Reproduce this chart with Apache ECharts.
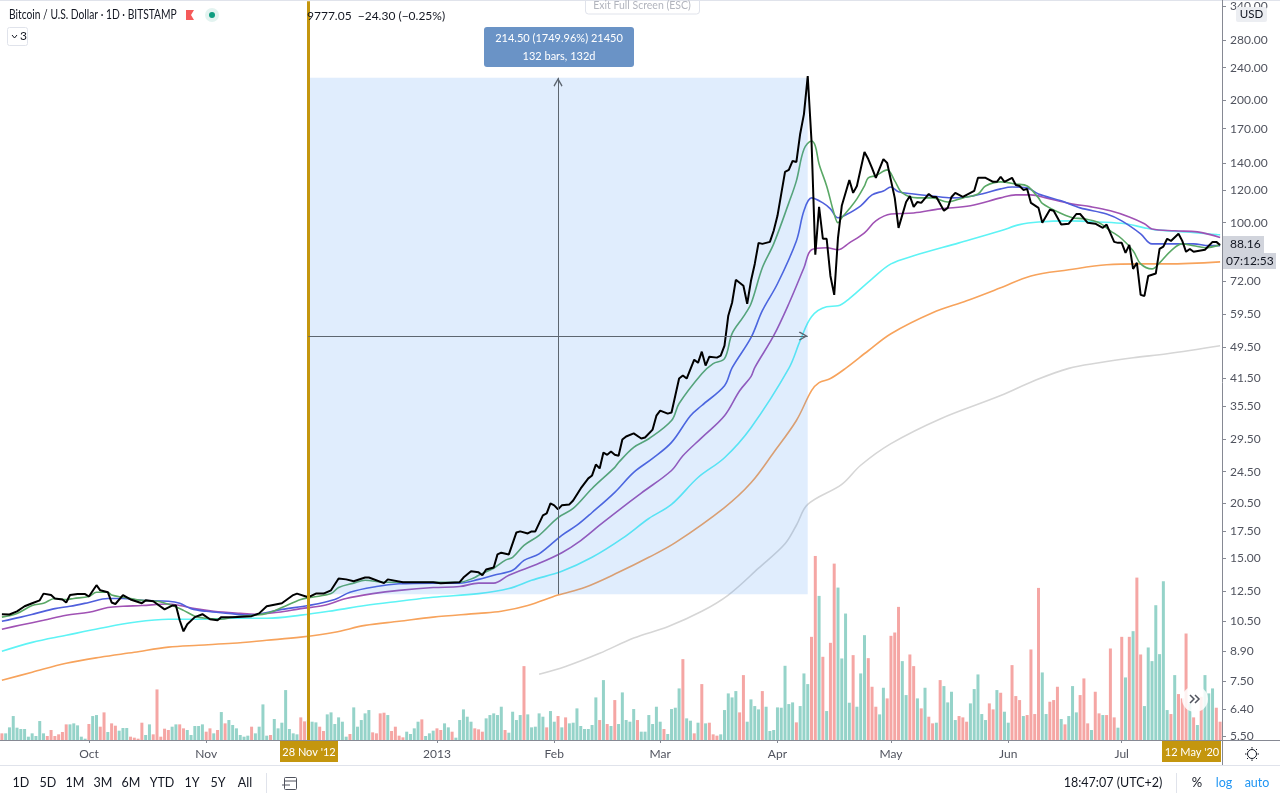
<!DOCTYPE html>
<html>
<head>
<meta charset="utf-8">
<title>BTCUSD</title>
<style>html,body{margin:0;padding:0;background:#fff}#chart{width:1280px;height:800px}</style>
<script src="https://cdn.jsdelivr.net/npm/echarts@6/dist/echarts.min.js"></script>
</head>
<body>
<div id="chart"></div>
<script>
// daily bars start 8 Sep 2012, points below are [bar index, price]
const startDate = new Date(Date.UTC(2012, 8, 8));
const barCount = 323;
const monthBars = [23, 54, 115, 146, 174, 205, 235, 266, 296];
const monthLabels = ["Oct", "Nov", "2013", "Feb", "Mar", "Apr", "May", "Jun", "Jul"];
const priceTicks = [340, 280, 240, 200, 170, 140, 120, 100, 72, 59.5, 49.5, 41.5, 35.5, 29.5, 24.5, 20.5, 17.5, 15, 12.5, 10.5, 8.9, 7.5, 6.4, 5.5];

const close = [[0,10.95],[2,10.93],[4,11.13],[6,11.45],[8,11.65],[10,11.84],[11,12.3],[13,12.2],[14,11.97],[16,11.9],[17,11.7],[18,12.2],[20,12.27],[22,12.27],[23,12.1],[25,12.9],[26,12.53],[28,12.4],[29,11.7],[30,11.6],[32,12.2],[34,11.9],[37,11.65],[38,11.84],[40,11.78],[43,11.25],[45,11.5],[46,11.5],[47,10.58],[48,9.94],[49,10.35],[51,10.77],[53,10.95],[55,10.64],[57,10.58],[58,10.77],[61,10.77],[66,10.83],[68,11],[70,11.45],[71,11.5],[74,11.65],[77,12.2],[78,12.3],[81,12.05],[83,12.3],[85,12.3],[87,12.53],[89,13.4],[91,13.33],[93,13.19],[96,13.47],[97,13.47],[101,13.05],[102,13.33],[106,13.12],[114,13.12],[116,13.05],[121,13.12],[122,13.47],[124,13.95],[126,13.87],[127,13.65],[128,14.1],[130,14.26],[131,15.35],[132,15.5],[134,15.35],[136,17.38],[137,17.48],[139,17.28],[140,17.48],[141,17.48],[143,19.13],[144,19.35],[145,20.47],[146,20.25],[147,19.8],[148,20.25],[150,20.36],[151,20.82],[153,22.28],[155,23.58],[156,23.98],[157,25.5],[158,24.95],[159,27.28],[160,26.95],[161,27.44],[162,26.95],[163,26.8],[164,29.37],[165,29.87],[167,30.4],[169,29.54],[170,29.7],[172,31.07],[173,33.6],[174,34.59],[176,34],[177,34.2],[178,37.65],[179,41.45],[180,42.15],[181,41.45],[183,46.1],[184,45.3],[185,48.25],[186,44.6],[187,46.9],[189,46.65],[190,47.2],[191,49.9],[192,59.1],[193,63.6],[194,72.4],[196,70],[197,63.25],[198,72],[199,79.2],[200,89.2],[201,88.7],[203,89.7],[204,95.5],[205,103.9],[206,117.6],[207,133.2],[208,134.7],[209,141.7],[210,140.9],[211,165],[212,184.6],[213,228.8],[214,158.6],[215,83.4],[216,109.3],[217,91.3],[218,91.3],[219,74],[220,66.5],[221,91.8],[222,110],[224,127.3],[225,118.3],[226,123],[228,149],[229,143.2],[230,136.1],[231,128.8],[233,143.2],[234,140.1],[236,115],[237,97.1],[239,112.4],[240,116.2],[241,109.3],[242,112.4],[243,111.8],[245,117.6],[246,115.6],[247,115.6],[249,106.9],[250,108.7],[251,115.6],[252,118.3],[254,115.6],[255,117],[257,119.6],[258,128.8],[260,128.8],[262,125.9],[263,125.9],[264,129.6],[265,125.9],[267,128.8],[268,123.7],[269,123],[270,120.3],[271,121],[272,111.8],[274,108.7],[275,99.9],[277,107.5],[278,106.9],[280,98.9],[282,99.4],[284,105],[285,105],[287,99.9],[289,99.4],[291,97.1],[292,98.9],[294,89.7],[295,89.2],[296,89.2],[297,84.3],[298,88.2],[299,77],[300,79.7],[301,66.5],[302,66.1],[303,74],[305,75],[306,86.2],[307,87.3],[308,91.3],[309,90.2],[311,93.9],[312,90.2],[313,84.8],[314,86.2],[315,84.8],[318,85.8],[320,89.7],[321,89.7],[322,88.16]];

const maGreen = [[0,10.77],[4,11],[8,11.5],[11,11.65],[14,11.97],[17,11.9],[19,11.97],[23,12.1],[25,12.4],[28,12.4],[29,12.2],[32,12.05],[37,11.84],[41,11.78],[45,11.5],[48,11.19],[51,10.83],[54,10.7],[58,10.64],[61,10.77],[67,10.89],[70,11],[74,11.37],[79,11.9],[82,12.05],[87,12.3],[89,12.73],[93,13.05],[96,13.26],[101,13.12],[105,13.12],[114,13.12],[121,13.12],[125,13.47],[126,13.65],[130,14.2],[133,14.84],[135,15.1],[138,16.15],[142,17.1],[147,18.9],[151,19.9],[156,22.28],[162,25.1],[163,25.8],[167,28.1],[171,29.5],[177,32.7],[179,36],[185,42.6],[188,45.1],[191,46.4],[193,53.4],[196,58.8],[198,63.25],[201,77.5],[204,88.7],[208,111.8],[210,126.6],[212,151.3],[214,158.6],[215,154.2],[216,139.3],[218,123],[220,105],[221,99.9],[222,102.8],[224,108.1],[226,114.4],[228,123],[229,128.8],[231,130.4],[234,134.7],[236,126.6],[238,118.3],[242,115],[246,115],[250,112.4],[254,115],[258,117.6],[260,123],[264,125.9],[268,124.4],[271,123],[274,115],[275,111.5],[279,106.3],[283,102.8],[286,102.2],[290,99.9],[293,95.5],[296,91.3],[299,85.3],[301,79.2],[304,77],[306,79.7],[309,85.3],[312,88.7],[315,87.8],[318,86.8],[322,88.2]];

const maBlue = [[0,10.52],[5,10.77],[9,11],[14,11.3],[18,11.45],[23,11.7],[28,11.97],[32,11.97],[37,11.84],[44,11.78],[47,11.65],[50,11.3],[54,11.13],[60,11],[65,10.89],[69,11],[74,11.25],[81,11.5],[88,11.9],[92,12.4],[99,12.8],[105,13],[114,13.05],[121,13.05],[126,13.33],[130,13.65],[135,14.03],[138,14.84],[142,15.4],[148,17.1],[152,18.1],[156,19.45],[162,21.8],[167,24.4],[172,26.4],[177,28.9],[182,33.6],[185,35.6],[191,39.8],[193,44],[198,52.2],[201,60.8],[205,70.8],[210,90.2],[212,106.9],[214,115],[217,111.8],[219,108.1],[221,102.8],[223,104.4],[227,110],[230,117],[233,119.6],[235,122.3],[237,119],[241,117.6],[246,116.2],[251,115],[255,115.6],[259,117.6],[264,121],[267,122.3],[271,121.7],[274,117.6],[280,113.1],[285,108.7],[292,105],[296,101],[301,93.9],[304,88.7],[310,88.7],[315,88.7],[319,87.8],[322,87.8]];

const maPurple = [[0,10.06],[5,10.3],[11,10.58],[17,10.89],[23,11.07],[28,11.37],[32,11.45],[37,11.5],[44,11.6],[47,11.5],[51,11.3],[56,11.13],[63,11],[67,10.95],[73,11.07],[79,11.3],[85,11.5],[91,11.97],[98,12.3],[105,12.53],[114,12.73],[121,12.8],[126,13.05],[130,13.05],[134,13.65],[142,14.6],[148,15.5],[153,16.6],[158,18.1],[163,19.68],[169,21.7],[177,24.66],[180,26.8],[185,29.7],[191,33.6],[195,38.7],[198,41.9],[199,44.1],[204,52.8],[208,63.25],[212,77.5],[214,85.8],[218,86.8],[221,85.8],[224,89.2],[228,94.4],[231,101],[235,105],[241,105.6],[248,108.1],[256,110],[264,115],[268,117],[272,117],[276,115],[282,111.5],[288,109.3],[293,106.9],[298,103.3],[302,99.4],[304,96.5],[310,95.5],[316,94.9],[322,92]];

const maCyan = [[0,8.88],[8,9.34],[17,9.72],[26,10.11],[35,10.46],[44,10.64],[52,10.64],[61,10.7],[70,10.7],[79,10.89],[88,11.19],[96,11.5],[105,11.78],[114,12.05],[126,12.3],[134,12.66],[140,13.26],[148,13.95],[156,15.1],[164,16.8],[171,18.8],[177,20.36],[184,23.7],[191,26.5],[198,31.4],[208,43.9],[211,51.34],[214,58.8],[218,62.2],[221,62.5],[224,65.1],[230,72.8],[235,79.2],[241,82.9],[253,89.2],[264,95.5],[269,98.9],[274,100.4],[282,101],[290,100.4],[297,99.4],[302,97.1],[305,96],[313,94.9],[322,93.3]];

const maOrange = [[0,7.54],[8,7.89],[17,8.3],[26,8.59],[35,8.83],[44,9.09],[52,9.19],[61,9.29],[70,9.45],[79,9.62],[88,9.89],[96,10.28],[105,10.52],[114,10.77],[126,11],[132,11.13],[139,11.5],[147,12.2],[154,12.73],[163,13.87],[171,15.1],[178,16.4],[191,20],[198,23],[204,27.3],[210,32.7],[214,38.7],[216,40.5],[219,41.45],[223,43.9],[229,48.5],[235,53.4],[246,60.1],[255,64.3],[264,69.2],[272,74],[282,76.6],[292,78.8],[301,79.2],[308,79.2],[322,80.1]];

const maGray = [[142,7.8],[149,8.15],[158,8.78],[167,9.57],[176,10.2],[185,11.13],[192,12.2],[200,14.2],[207,16.3],[210,18.1],[213,20.36],[222,22.8],[227,25.4],[235,28.7],[248,33],[264,37.65],[273,41],[282,43.9],[290,45.3],[299,46.6],[308,47.7],[322,49.9]];

const volume = [
  20,20,38,72,37,33,33,10,20,12,57,20,12,30,12,17,24,47,47,50,44,10,4,48,72,75,40,83,24,50,43,28,36,36,10,7,4,52,15,47,
  17,152,10,34,30,40,47,47,35,30,15,42,42,47,25,35,20,30,84,50,60,45,35,15,10,13,40,20,40,107,13,15,63,35,52,150,33,20,17,68,
  56,60,55,53,40,27,77,83,48,68,55,10,18,98,40,60,80,90,23,20,80,82,75,27,40,13,8,25,18,35,55,62,12,20,28,35,30,50,38,25,
  7,60,92,70,55,35,32,25,65,75,80,75,100,30,22,85,60,75,222,77,38,40,80,70,38,87,55,72,38,68,50,52,95,42,33,33,45,128,60,180,
  48,42,120,48,143,60,55,93,60,25,25,75,48,100,55,33,18,93,97,155,243,65,58,20,52,168,50,52,17,13,17,90,140,128,147,83,195,55,122,102,
  92,147,100,27,30,98,97,223,108,113,53,102,200,168,310,553,433,250,87,292,530,458,245,380,112,255,100,200,315,246,160,100,77,157,125,313,323,400,237,135,
  257,222,125,95,157,70,50,52,180,162,113,145,60,72,68,55,110,153,197,78,60,110,92,150,142,85,52,225,132,120,72,75,272,78,457,203,78,115,120,160,
  63,47,72,162,83,135,185,50,30,145,80,75,75,275,68,37,310,188,310,327,488,257,102,278,237,405,258,477,90,78,195,138,125,320,110,68,45,130,195,140,
  155,97,55
];
// 1 = close above open
const volumeUp = [
  0,1,1,1,1,1,1,1,1,1,1,1,0,0,0,0,0,0,1,1,1,1,1,0,1,1,0,0,1,0,0,1,1,1,0,0,0,0,1,1,
  0,0,0,0,0,1,1,0,0,1,1,1,1,1,0,0,1,0,1,0,1,1,1,1,1,1,0,1,1,1,1,0,1,1,1,1,1,1,1,0,
  0,1,1,1,0,0,1,1,1,1,1,1,0,1,1,1,1,1,0,0,0,0,1,0,0,0,0,1,1,1,1,0,1,1,1,0,0,1,1,0,
  1,1,1,1,1,0,0,0,1,1,1,1,1,0,1,1,1,1,0,1,1,1,1,1,0,1,1,0,1,0,1,1,1,1,1,1,1,1,0,1,
  0,1,0,1,1,1,1,1,0,1,1,1,1,1,1,0,1,1,1,1,0,1,1,0,1,0,1,0,0,0,1,1,1,1,1,0,0,1,1,1,
  1,0,1,1,1,1,1,1,1,1,0,1,1,1,0,0,1,0,1,0,0,1,1,1,1,0,1,1,1,0,0,0,1,1,0,0,0,0,1,1,
  0,0,1,0,1,0,0,1,0,1,1,1,1,0,0,0,1,1,1,1,1,0,0,1,0,1,1,0,0,0,1,0,0,0,0,1,1,0,0,0,
  1,0,1,1,1,0,0,0,1,0,0,1,0,0,0,1,0,1,0,1,0,0,1,1,1,1,1,1,1,0,1,0,0,0,1,0,1,0,1,1,
  1,0,0
];

// measure tool: 28 Nov to 9 Apr
const measureFromBar = 81, measureToBar = 213, measureMidBar = 147;
const measureLow = 12.26, measureHigh = 226.76, measureMid = 52.7;

const fontName = "Lato, 'Noto Sans', sans-serif";
const gold = "#c4960e";
// open arrow head, the empty first point keeps the tip on the line's end
const chevron = "path://M0,-8 L0,-8 Z M0,0 L5,7 L4,8 L0,2.4 L-4,8 L-5,7 Z";

const categories = [];
for (let i = 0; i < barCount; i++) {
  categories.push(new Date(startDate.getTime() + i * 86400000).toISOString().slice(0, 10));
}

function maSeries(name, data, color) {
  return {
    name: name, type: "line", data: data, yAxisIndex: 0, z: 2,
    showSymbol: false, symbol: "none", smooth: 0.35,
    lineStyle: { color: color, width: 1.6 }, silent: true,
  };
}

function label(x, y, text, color, size, align, weight) {
  return {
    type: "text", x: x, y: y, z: 100, silent: true,
    style: {
      text: text, fill: color, fontSize: size, fontFamily: fontName,
      align: align || "left", verticalAlign: "middle", fontWeight: weight || "normal",
    },
  };
}
function box(x, y, w, h, fill, stroke, r) {
  return {
    type: "rect", z: 99, silent: true,
    shape: { x: x, y: y, width: w, height: h, r: r || 0 },
    style: { fill: fill, stroke: stroke || null, lineWidth: 1 },
  };
}
function stroke(points, color, width) {
  return {
    type: "polyline", z: 100, silent: true,
    shape: { points: points },
    style: { stroke: color, lineWidth: width || 1, fill: null },
  };
}

const ranges = [["1D", 21], ["5D", 48], ["1M", 75], ["3M", 103], ["6M", 131], ["YTD", 162], ["1Y", 192], ["5Y", 218], ["All", 245]];

const title = label(9, 15, "Bitcoin / U.S. Dollar · 1D · BITSTAMP", "#131722", 13);
title.scaleX = 0.79;

const chrome = [
  stroke([[0, 0.5], [1280, 0.5]], "#e0e3eb"),
  // header
  title,
  { type: "polygon", z: 100, silent: true, shape: { points: [[186, 10], [194, 10], [191, 15], [194, 20], [186, 20]] }, style: { fill: "#f55a5a" } },
  { type: "circle", z: 99, silent: true, shape: { cx: 212, cy: 15, r: 7 }, style: { fill: "#e3f3f0" } },
  { type: "circle", z: 100, silent: true, shape: { cx: 212, cy: 15, r: 3 }, style: { fill: "#0f9d80" } },
  label(307, 16, "9777.05  −24.30 (−0.25%)", "#131722", 12),
  box(7.5, 27.5, 20, 18, "#fff", "#e0e3eb", 2),
  stroke([[12, 35], [14.5, 38], [17, 35]], "#131722", 1),
  label(20, 36.5, "3", "#131722", 12),
  box(585.5, -3, 114, 17, "#fff", "#e0e3eb", 3),
  label(642, 6, "Exit Full Screen (ESC)", "#b2b5be", 10.5, "center"),
  // measure tool tag
  box(484, 27, 150, 40, "#6a93c6", null, 3),
  label(559, 38.5, "214.50 (1749.96%) 21450", "#fff", 11, "center"),
  label(559, 56.5, "132 bars, 132d", "#fff", 11, "center"),
  // price scale extras
  stroke([[1222.5, 0], [1222.5, 765]], "#868993"),
  box(1236, 7, 31, 15, "#eceef2", null, 2),
  label(1251.5, 14.5, "USD", "#131722", 11.5, "center"),
  box(1223, 236, 41, 17, "#d1d4dc", null, 0),
  label(1230, 244.5, "88.16", "#131722", 12),
  box(1223, 253, 53, 16, "#d1d4dc", null, 0),
  label(1226, 261.5, "07:12:53", "#131722", 12),
  // time scale extras
  stroke([[0, 740.5], [1280, 740.5]], "#868993"),
  box(280, 741, 58, 21, gold, null, 0),
  label(309, 752, "28 Nov '12", "#fff", 11, "center"),
  box(1162, 741, 59, 21, gold, null, 0),
  label(1192, 752, "12 May '20", "#fff", 11, "center"),
  { type: "circle", z: 99, silent: true, shape: { cx: 1195, cy: 699, r: 13 }, style: { fill: "rgba(255,255,255,0.85)" } },
  stroke([[1190, 695], [1194, 699], [1190, 703]], "#50535e", 1.5),
  stroke([[1195, 695], [1199, 699], [1195, 703]], "#50535e", 1.5),
  { type: "circle", z: 100, silent: true, shape: { cx: 1252, cy: 754, r: 4.5 }, style: { fill: "#fff", stroke: "#131722", lineWidth: 1 } },
  // bottom toolbar
  stroke([[0, 765.5], [1280, 765.5]], "#e0e3eb"),
  stroke([[266.5, 773], [266.5, 793]], "#e0e3eb"),
  stroke([[1176.5, 773], [1176.5, 793]], "#e0e3eb"),
  box(284.5, 777.5, 12, 12, null, "#50535e", 1),
  stroke([[284.5, 781], [296.5, 781]], "#50535e"),
  stroke([[282, 785], [290, 785]], "#50535e"),
  label(1113, 783, "18:47:07 (UTC+2)", "#131722", 12.5, "center"),
  label(1197, 783, "%", "#131722", 13, "center"),
  label(1224, 783, "log", "#2196f3", 12.5, "center"),
  label(1257, 783, "auto", "#2196f3", 12.5, "center"),
];
ranges.forEach(function (r) {
  chrome.push(label(r[1], 783, r[0], "#131722", 12.5, "center"));
});
// gear spikes
[[0, -7, 0, -5.5], [0, 7, 0, 5.5], [-7, 0, -5.5, 0], [7, 0, 5.5, 0], [-5, -5, -4, -4], [5, -5, 4, -4], [-5, 5, -4, 4], [5, 5, 4, 4]].forEach(function (s) {
  chrome.push(stroke([[1252 + s[0], 754 + s[1]], [1252 + s[2], 754 + s[3]]], "#131722"));
});

const chart = echarts.init(document.getElementById("chart"), null, { renderer: "canvas" });

const option = {
  animation: false,
  backgroundColor: "#fff",
  grid: { left: 0, right: 58, top: 0, bottom: 60 },
  xAxis: {
    type: "category",
    data: categories,
    axisLine: { show: false },
    axisTick: {
      show: true, alignWithLabel: true, length: 3,
      lineStyle: { color: "#868993" },
      interval: function (i) { return monthBars.indexOf(i) >= 0; },
    },
    axisLabel: {
      margin: 8, fontSize: 12, fontFamily: fontName, color: "#50535e",
      interval: function (i) { return monthBars.indexOf(i) >= 0; },
      formatter: function (value, i) { return monthLabels[monthBars.indexOf(i)]; },
    },
    splitLine: { show: false },
  },
  yAxis: [
    {
      type: "log", logBase: 10, position: "right",
      min: 5.38, max: 349.4,
      axisLine: { show: false },
      axisTick: { show: true, length: 4, customValues: priceTicks, lineStyle: { color: "#868993" } },
      axisLabel: {
        fontSize: 12, fontFamily: fontName, color: "#50535e", margin: 8,
        customValues: priceTicks,
        formatter: function (v) { return Number(v).toFixed(2); },
      },
      splitLine: { show: false },
    },
    { type: "value", min: 0, max: 2220, show: false, splitLine: { show: false } },
  ],
  series: [
    {
      name: "Volume", type: "bar", yAxisIndex: 1, barWidth: 3, z: 1, silent: true,
      data: volume.map(function (v, i) {
        return { value: v, itemStyle: { color: volumeUp[i] ? "#95d3c9" : "#f5a6a4" } };
      }),
    },
    maSeries("MA gray", maGray, "#d6d6d6"),
    maSeries("MA orange", maOrange, "#f7a35c"),
    maSeries("MA cyan", maCyan, "#5ef3f5"),
    maSeries("MA purple", maPurple, "#a052b4"),
    maSeries("MA blue", maBlue, "#4f5fdc"),
    maSeries("MA green", maGreen, "#5aa866"),
    {
      // measure tool overlay, sits above the averages like the drawing does
      name: "Measure", type: "line", yAxisIndex: 0, data: [], z: 3, silent: true,
      markArea: {
        silent: true, z: 3,
        itemStyle: { color: "rgba(60,140,240,0.16)" },
        data: [[{ xAxis: measureFromBar, yAxis: measureLow }, { xAxis: measureToBar, yAxis: measureHigh }]],
      },
    },
    {
      name: "Close", type: "line", data: close, yAxisIndex: 0, z: 4, silent: true,
      showSymbol: false, symbol: "none",
      lineStyle: { color: "#000", width: 2 },
      markLine: {
        silent: true, z: 5, animation: false, symbol: "none",
        label: { show: false },
        data: [
          { xAxis: measureFromBar, lineStyle: { color: gold, width: 3, type: "solid" } },
          [
            { xAxis: measureMidBar, yAxis: measureLow, symbol: "none", lineStyle: { color: "#5d6670", width: 1, type: "solid" } },
            { xAxis: measureMidBar, yAxis: measureHigh, symbol: chevron, symbolSize: [9, 18] },
          ],
          [
            { xAxis: measureFromBar, yAxis: measureMid, symbol: "none", lineStyle: { color: "#5d6670", width: 1, type: "solid" } },
            { xAxis: measureToBar, yAxis: measureMid, symbol: chevron, symbolSize: [9, 18] },
          ],
        ],
      },
    },
  ],
  graphic: { elements: chrome },
};

chart.setOption(option);
</script>
</body>
</html>
